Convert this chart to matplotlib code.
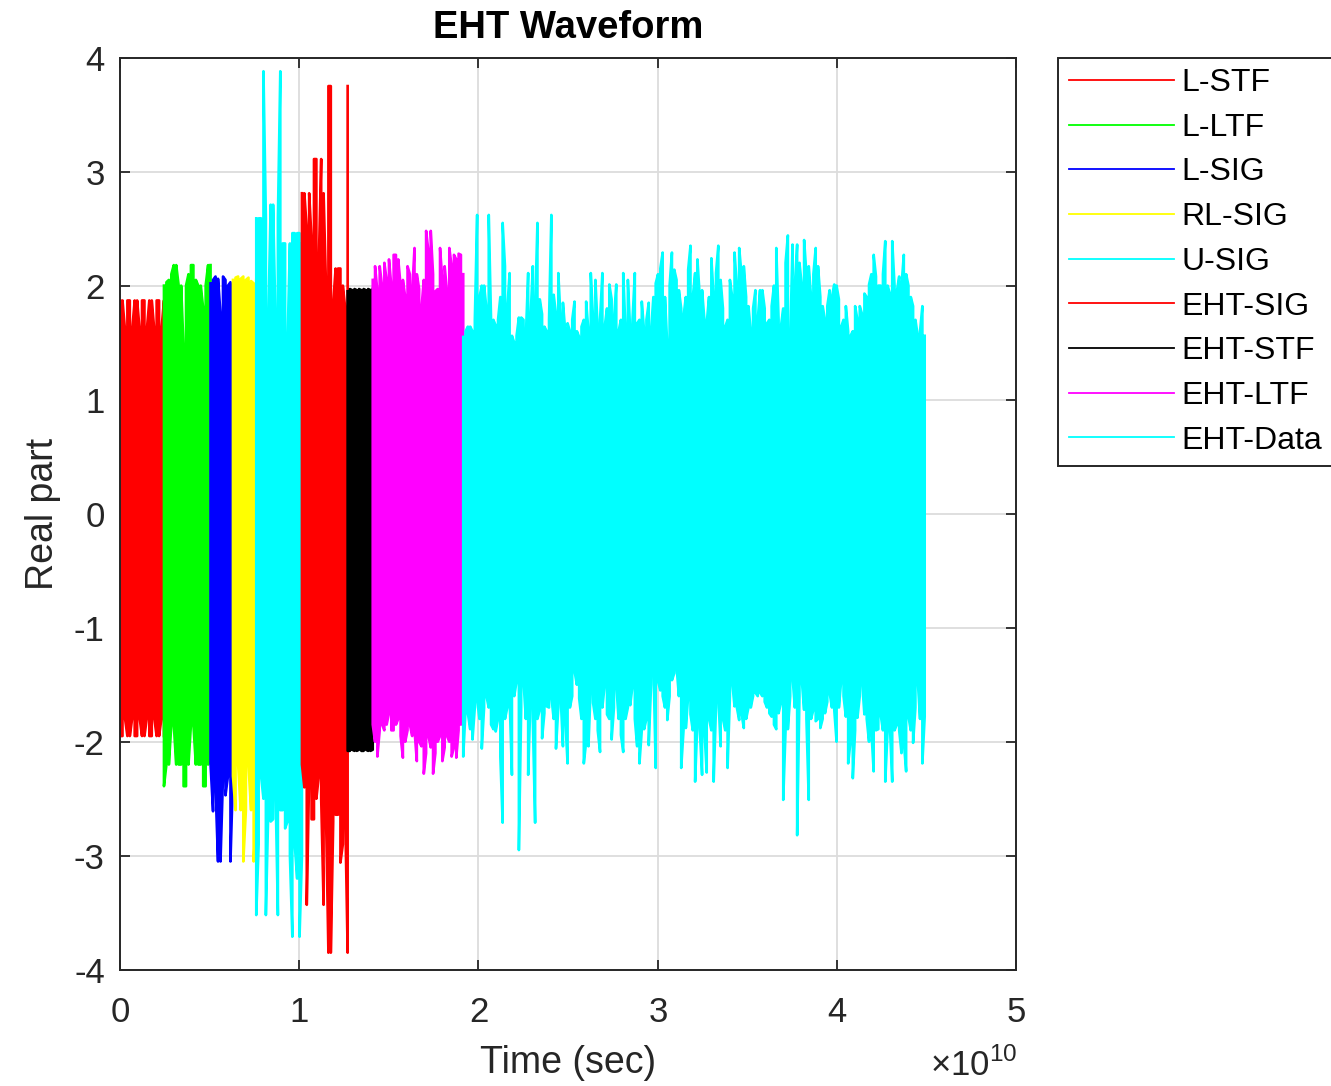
import numpy as np
import matplotlib.pyplot as plt

plt.rcParams['font.family'] = ['Liberation Sans', 'DejaVu Sans']
plt.rcParams['mathtext.fontset'] = 'custom'
plt.rcParams['mathtext.rm'] = 'Liberation Sans'
plt.rcParams['axes.unicode_minus'] = False

# field names / colours (MATLAB style)
labels = ['L-STF', 'L-LTF', 'L-SIG', 'RL-SIG', 'U-SIG', 'EHT-SIG', 'EHT-STF', 'EHT-LTF', 'EHT-Data']
colors = ['#ff0000', '#00ff00', '#0000ff', '#ffff00', '#00ffff',
          '#ff0000', '#000000', '#ff00ff', '#00ffff']

# field boundaries (sec)
t_edges = np.array([0, 0.245, 0.505, 0.63, 0.76, 1.015, 1.27, 1.41, 1.915, 4.49]) * 1e10

# per-column max / min of the real part
lstf_hi = [1.87, 1.87, 1.62, 1.87, 1.87, 1.62, 1.87, 1.87, 1.62, 1.87,
           1.87, 1.62, 1.87, 1.87, 1.62, 1.87, 1.87, 1.62, 1.87]
lstf_lo = [-1.95, -1.95, -1.79, -1.95, -1.95, -1.79, -1.95, -1.95, -1.79, -1.95,
           -1.95, -1.79, -1.95, -1.95, -1.79, -1.95, -1.95, -1.79, -1.95]

lltf_hi = [2.00, 2.03, 2.05, 2.10, 2.18, 2.18, 2.00, 2.00, 1.45, 2.00,
           2.10, 2.18, 2.18, 2.05, 2.00, 2.00, 1.80, 2.00, 2.18, 2.18]
lltf_lo = [-2.39, -2.20, -2.20, -1.85, -1.85, -2.20, -2.20, -2.20, -2.39, -2.39,
           -2.20, -1.85, -1.85, -2.20, -2.20, -2.20, -2.39, -2.39, -2.20, -1.85]

lsig_hi = [2.02, 2.05, 2.08, 2.06, 1.75, 2.08, 2.05, 2.00, 2.03, 2.00]
lsig_lo = [-2.20, -2.61, -2.40, -3.05, -3.05, -2.30, -2.47, -2.30, -3.05, -2.30]

rlsig_hi = [2.05, 2.07, 2.08, 2.06, 2.08, 2.05, 2.07, 2.04, 2.02, 2.05]
rlsig_lo = [-2.30, -2.60, -2.20, -2.60, -3.05, -2.60, -2.21, -2.60, -3.05, -2.60]

usig_hi = [2.59, 2.59, 2.59, 3.88, 2.59, 1.70, 2.71, 2.71, 1.70, 2.59,
           3.88, 2.37, 2.37, 1.50, 2.37, 2.46, 2.46, 2.46, 2.46, 2.37]
usig_lo = [-3.52, -2.90, -2.30, -2.50, -3.52, -2.60, -2.70, -2.68, -2.40, -3.52,
           -2.60, -2.60, -2.76, -2.70, -3.00, -3.71, -2.90, -3.20, -3.71, -3.00]

ehtsig_hi = [2.81, 2.81, 2.50, 2.81, 2.40, 3.11, 3.11, 2.20, 3.11, 2.81,
             2.00, 3.75, 3.75, 1.85, 2.15, 2.15, 2.15, 2.00, 1.80, 3.75]
ehtsig_lo = [-2.20, -2.40, -3.43, -2.30, -2.68, -2.68, -2.50, -2.30, -2.50, -3.43,
             -2.64, -3.85, -3.85, -2.70, -2.64, -2.64, -3.06, -2.90, -2.64, -3.85]

ehtstf_hi = [1.95, 1.97, 1.96, 1.97, 1.96, 1.97, 1.96, 1.97, 1.96, 1.97, 1.96, 1.97]
ehtstf_lo = [-2.08, -2.08, -2.07, -2.08, -2.08, -2.07, -2.08, -2.08, -2.07, -2.08, -2.08, -2.07]

ehtltf_hi = [2.05, 2.17, 1.95, 2.17, 2.00, 2.20, 2.05, 2.23, 2.00, 2.27,
             2.27, 2.23, 2.00, 2.05, 1.90, 2.17, 2.10, 1.95, 2.33, 2.10,
             1.97, 1.80, 2.05, 2.48, 2.30, 2.48, 2.10, 1.95, 1.97, 2.33,
             2.05, 2.17, 1.95, 2.33, 2.17, 2.27, 2.23, 2.28, 2.27, 2.10]
ehtltf_lo = [-1.85, -2.00, -2.13, -1.90, -1.85, -1.90, -1.85, -1.75, -1.90, -1.90,
             -1.85, -1.80, -1.95, -2.14, -2.00, -1.90, -1.85, -1.95, -1.90, -2.17,
             -2.00, -2.04, -2.28, -2.10, -1.95, -2.05, -2.28, -2.10, -2.00, -1.95,
             -2.17, -2.05, -1.95, -2.00, -2.13, -2.05, -2.14, -1.90, -1.85, -1.80]

data_hi = [1.55, 1.60, 1.64, 1.64, 1.60, 1.70, 2.62, 1.90, 2.00, 2.00,
           1.80, 2.62, 1.70, 1.70, 1.65, 1.70, 1.90, 2.55, 2.17, 1.80,
           2.11, 1.56, 1.50, 1.56, 1.72, 1.72, 1.70, 1.55, 2.11, 1.70,
           2.17, 1.80, 2.55, 1.88, 1.75, 1.64, 1.60, 1.70, 2.62, 1.92,
           1.75, 2.11, 1.70, 1.85, 1.60, 1.67, 1.60, 1.70, 1.86, 1.60,
           1.55, 1.64, 1.70, 1.86, 1.60, 2.11, 1.70, 2.05, 1.61, 1.70,
           2.11, 1.64, 1.80, 2.01, 1.88, 1.70, 2.01, 1.60, 1.70, 2.11,
           1.60, 2.05, 1.60, 1.70, 2.11, 1.67, 1.70, 1.86, 1.60, 1.70,
           1.85, 1.60, 1.90, 2.02, 2.10, 2.15, 2.29, 1.90, 1.47, 2.00,
           2.29, 2.14, 2.05, 1.96, 1.80, 1.73, 1.90, 2.14, 2.35, 1.90,
           2.11, 2.23, 1.90, 1.96, 1.70, 1.67, 1.90, 2.24, 1.90, 2.11,
           2.35, 2.05, 1.80, 1.64, 1.70, 2.05, 1.90, 2.29, 2.00, 2.33,
           2.10, 2.17, 1.90, 1.82, 1.60, 1.80, 1.96, 1.70, 1.96, 1.96,
           1.80, 1.67, 1.70, 1.82, 2.00, 2.33, 1.70, 1.64, 1.80, 2.20,
           2.44, 1.50, 2.36, 2.00, 2.36, 2.20, 2.00, 2.40, 2.10, 2.17,
           1.90, 2.10, 2.33, 2.17, 1.90, 1.82, 1.70, 1.82, 1.96, 1.90,
           2.01, 2.00, 1.88, 1.64, 1.70, 1.82, 1.60, 1.56, 1.60, 1.82,
           1.70, 1.82, 1.75, 1.93, 1.90, 2.01, 2.10, 2.27, 2.08, 2.00,
           2.00, 2.10, 2.39, 2.00, 1.93, 2.39, 2.00, 1.95, 2.08, 2.00,
           2.27, 2.10, 2.00, 1.90, 1.82, 1.70, 1.56, 1.60, 1.82, 1.56]
data_lo = [-2.13, -1.72, -1.75, -1.89, -1.98, -1.70, -1.63, -1.80, -2.06, -1.70,
           -1.60, -1.70, -1.85, -1.89, -1.91, -1.80, -2.13, -2.71, -1.80, -1.70,
           -1.62, -2.29, -1.60, -1.47, -2.95, -1.70, -1.47, -1.80, -2.29, -1.62,
           -1.80, -2.71, -1.80, -1.72, -1.97, -1.75, -1.69, -1.70, -1.60, -1.80,
           -2.06, -1.70, -1.60, -2.04, -1.80, -2.19, -1.70, -1.60, -1.38, -1.50,
           -1.62, -1.80, -2.19, -2.00, -2.04, -1.51, -1.66, -1.80, -1.90, -2.09,
           -1.70, -1.50, -1.76, -1.80, -1.98, -1.70, -1.50, -1.80, -1.94, -2.09,
           -1.80, -1.70, -1.68, -1.51, -1.80, -2.04, -2.19, -1.90, -1.89, -1.80,
           -2.03, -1.50, -1.30, -2.23, -1.47, -1.55, -1.60, -1.70, -1.81, -1.60,
           -1.46, -1.40, -1.34, -1.60, -2.23, -1.90, -1.88, -1.60, -1.76, -1.90,
           -2.35, -1.80, -1.89, -2.29, -1.90, -2.27, -1.80, -1.90, -2.35, -1.70,
           -1.60, -2.04, -1.80, -1.90, -2.23, -1.60, -1.48, -1.69, -1.70, -1.81,
           -1.75, -1.88, -1.80, -1.70, -1.70, -1.60, -1.57, -1.60, -1.57, -1.60,
           -1.65, -1.70, -1.75, -1.78, -1.85, -1.89, -1.75, -1.66, -2.51, -1.90,
           -1.89, -1.60, -1.43, -1.70, -2.82, -1.60, -1.46, -1.72, -1.80, -2.51,
           -1.80, -1.72, -1.82, -1.80, -1.88, -1.80, -1.75, -1.65, -1.57, -1.70,
           -1.72, -2.00, -1.70, -1.46, -1.60, -1.78, -2.19, -2.00, -2.32, -1.90,
           -1.79, -1.60, -1.47, -1.76, -1.80, -2.00, -1.90, -2.26, -1.90, -1.89,
           -1.76, -1.90, -2.35, -1.90, -1.86, -2.35, -1.90, -1.85, -1.90, -2.10,
           -2.00, -2.26, -1.78, -1.90, -2.01, -1.70, -1.46, -1.80, -2.19, -1.78]

hi_all = [lstf_hi, lltf_hi, lsig_hi, rlsig_hi, usig_hi, ehtsig_hi, ehtstf_hi, ehtltf_hi, data_hi]
lo_all = [lstf_lo, lltf_lo, lsig_lo, rlsig_lo, usig_lo, ehtsig_lo, ehtstf_lo, ehtltf_lo, data_lo]

fig = plt.figure(figsize=(13.31, 10.86), dpi=100)
ax = fig.add_axes([0.0902, 0.107, 0.6732, 0.840])

for k in range(len(labels)):
    hi = np.array(hi_all[k])
    lo = np.array(lo_all[k])
    t = np.linspace(t_edges[k], t_edges[k + 1], len(hi))
    # each column is a vertical stroke max->min, direction alternating
    first = np.where(np.arange(len(hi)) % 2 == 0, hi, lo)
    second = np.where(np.arange(len(hi)) % 2 == 0, lo, hi)
    y = np.column_stack([first, second]).ravel()
    ax.plot(np.repeat(t, 2), y, color=colors[k], lw=1.9, label=labels[k])

ax.set_xlim(0, 5e10)
ax.set_ylim(-4, 4)
ax.set_xticks(np.arange(0, 6) * 1e10)
ax.set_yticks(np.arange(-4, 5))
ax.ticklabel_format(style='sci', axis='x', scilimits=(0, 0), useMathText=True)
ax.xaxis.get_offset_text().set_visible(False)

dark = '#262626'
ax.grid(True, color='#dcdcdc', lw=1.3)
ax.set_axisbelow(True)
for s in ax.spines.values():
    s.set_color(dark)
    s.set_linewidth(1.4)
ax.tick_params(direction='in', length=7, width=1.3, colors=dark, labelsize=25,
               top=True, right=True)
ax.tick_params(axis='x', pad=19)
ax.tick_params(axis='y', pad=11)

ax.set_title('EHT Waveform', fontsize=27.5, fontweight='bold', color='black', pad=14)
ax.set_xlabel('Time (sec)', fontsize=27, color=dark)
ax.set_ylabel('Real part', fontsize=27, color=dark)
ax.xaxis.set_label_coords(0.5, -0.082)
ax.yaxis.set_label_coords(-0.066, 0.5)
ax.text(1.001, -0.116, r'$\times10^{10}$', transform=ax.transAxes, ha='right', va='baseline',
        fontsize=25, color=dark)

leg = ax.legend(loc='upper left', bbox_to_anchor=(1.047, 1.0), borderaxespad=0,
                fontsize=23, fancybox=False, framealpha=1, edgecolor=dark,
                handlelength=3.3, handletextpad=0.22, labelspacing=0.46, borderpad=0.33)
leg.get_frame().set_linewidth(1.4)
for h in leg.get_lines():
    h.set_linewidth(1.3)

fig.savefig('out.png', dpi=100)
